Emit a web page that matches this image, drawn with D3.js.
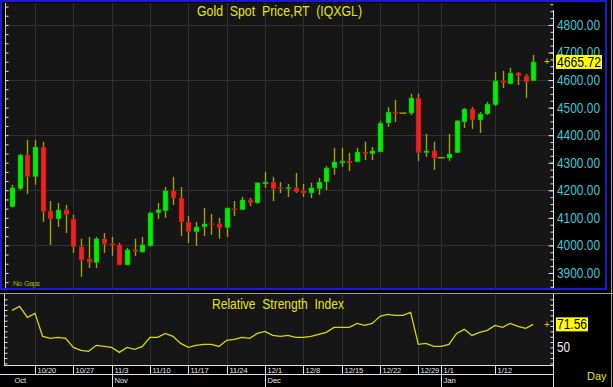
<!DOCTYPE html>
<html lang="en">
  <head>
    <meta charset="UTF-8" />
    <title>Gold Spot Price,RT (IQXGL)</title>
    <script src="https://cdn.jsdelivr.net/npm/d3@7"></script>
    <style>
      body { margin: 0; background: #000; }
      svg { display: block; font-family: "Liberation Sans", Arial, sans-serif; }
    </style>
  </head>
  <body>
    <svg></svg>
    <script>
      // daily candles, 10/15 .. 1/19
      let dates = [
        "10/15","10/16","10/17","10/20","10/21","10/22","10/23","10/24","10/27","10/28","10/29","10/30","10/31",
        "11/3","11/4","11/5","11/6","11/7","11/10","11/11","11/12","11/13","11/14","11/17","11/18","11/19","11/20","11/21",
        "11/24","11/25","11/26","11/27","11/28",
        "12/1","12/2","12/3","12/4","12/5","12/8","12/9","12/10","12/11","12/12","12/15","12/16","12/17","12/18","12/19",
        "12/22","12/23","12/24","12/25","12/26","12/29","12/30","12/31",
        "1/1","1/2","1/5","1/6","1/7","1/8","1/9","1/12","1/13","1/14","1/15","1/16","1/19"
      ];
      let opens = [
        4140,4205,4328,4249,4357,4125,4096,4129,4096,3995,3951,3937,4024,
        4006,4002,3929,3984,3976,3998,4118,4125,4198,4172,4085,4049,4067,4080,4078,
        4064,4134,4129,4165,4154,
        4223,4230,4211,4207,4209,4198,4190,4205,4230,4281,4299,4306,4303,4339,4332,
        4339,4444,4484,4480,4480,4535,4336,4343,
        4318,4317,4336,4448,4495,4455,4477,4510,4597,4586,4626,4615,4597
      ];
      let highs = [
        4220,4332,4383,4383,4376,4161,4154,4147,4111,4024,4031,4031,4045,
        4031,4009,3991,4024,4031,4122,4154,4212,4249,4212,4107,4085,4136,4114,4100,
        4136,4161,4176,4172,4230,
        4267,4249,4230,4223,4263,4223,4227,4245,4288,4354,4354,4336,4354,4376,4357,
        4452,4502,4528,4480,4550,4550,4405,4376,
        4318,4405,4455,4499,4502,4484,4521,4629,4633,4644,4629,4622,4691
      ];
      let lows = [
        4138,4201,4187,4220,4085,4002,4067,4045,3973,3886,3918,3918,3973,
        3962,3929,3929,3962,3973,3995,4096,4100,4147,4034,4009,3998,4034,4038,4024,
        4031,4107,4129,4143,4151,
        4209,4161,4190,4176,4190,4176,4172,4183,4201,4256,4285,4270,4303,4310,4310,
        4339,4430,4448,4480,4473,4307,4321,4274,
        4318,4307,4336,4426,4423,4408,4473,4506,4571,4586,4582,4535,4597
      ];
      let closes = [
        4209,4328,4249,4357,4122,4096,4129,4111,3995,3947,3937,4024,4005,
        4002,3929,3984,3980,4002,4118,4129,4198,4172,4085,4049,4067,4078,4076,4064,
        4136,4130,4165,4154,4227,
        4230,4205,4207,4211,4194,4190,4209,4230,4281,4303,4306,4299,4339,4332,4343,
        4444,4484,4480,4480,4535,4336,4343,4317,
        4318,4332,4452,4495,4455,4477,4513,4597,4590,4626,4615,4593,4665.72
      ];
      let rsi = [
        84.7,88.4,78.1,81.9,60.3,58.4,59.4,58.4,50.0,47.2,46.3,51.9,50.9,
        50.0,45.3,50.0,48.1,50.9,59.4,59.4,63.1,60.3,53.7,50.0,51.9,52.8,52.8,50.9,
        56.6,57.5,59.4,58.4,63.1,
        65.0,61.2,60.3,61.2,59.4,59.4,60.3,62.2,64.1,68.7,68.7,68.7,72.5,70.6,72.5,
        79.1,80.9,80.0,80.0,82.8,52.8,53.7,50.9,
        50.9,52.8,63.1,66.9,61.2,64.1,65.9,70.6,68.7,72.5,69.7,67.8,71.56
      ];
      let priceTicks = [3900,4000,4100,4200,4300,4400,4500,4600,4700,4800];
      let priceGrid = [4000,4200,4400,4600,4800];
      let weekTicks = ["10/20","10/27","11/3","11/10","11/17","11/24","12/1","12/8","12/15","12/22","12/29","1/1","1/12"];
      let monthTicks = ["10/15","11/3","12/1","1/1"];
      let monthLabels = ["Oct","Nov","Dec","Jan"];
      let rsiTicks = [50];

      let width = 613,
        height = 387;
      let plotL = 5,
        plotR = 553;

      let svg = d3.select("svg").attr("width", width).attr("height", height);
      svg.append("rect").attr("width", width).attr("height", height).attr("fill", "#000");

      let x = d3.scalePoint().domain(dates).range([12, 533.3]);
      let y = d3.scaleLinear().domain([3849, 4876]).range([287, 4]);
      let yr = d3.scaleLinear().domain([33.5, 100]).range([365, 294]);

      let candles = dates.map((d, i) => ({
        date: d, o: opens[i], h: highs[i], l: lows[i], c: closes[i]
      }));

      // ---------- price panel ----------
      svg.append("rect")
        .attr("x", plotL).attr("y", 3)
        .attr("width", plotR - plotL).attr("height", 285)
        .attr("fill", "#161616");
      svg.append("rect")
        .attr("x", plotL).attr("y", 294)
        .attr("width", plotR - plotL).attr("height", 71)
        .attr("fill", "#161616");

      let grid = svg.append("g").attr("stroke", "#303030").attr("stroke-width", 1);
      grid.selectAll("line.h")
        .data(priceGrid)
        .enter()
        .append("line")
        .attr("x1", plotL).attr("x2", plotR)
        .attr("y1", (d) => Math.round(y(d)) + 0.5)
        .attr("y2", (d) => Math.round(y(d)) + 0.5);
      grid.selectAll("line.v")
        .data(weekTicks)
        .enter()
        .append("line")
        .attr("x1", (d) => Math.round(x(d)) + 0.5)
        .attr("x2", (d) => Math.round(x(d)) + 0.5)
        .attr("y1", 3).attr("y2", 288);
      grid.selectAll("line.rv")
        .data(weekTicks)
        .enter()
        .append("line")
        .attr("x1", (d) => Math.round(x(d)) + 0.5)
        .attr("x2", (d) => Math.round(x(d)) + 0.5)
        .attr("y1", 295).attr("y2", 365);

      // title
      svg.append("text")
        .attr("x", 197).attr("y", 16)
        .attr("fill", "#e6e600")
        .attr("font-size", 14)
        .attr("textLength", 165)
        .attr("lengthAdjust", "spacingAndGlyphs")
        .style("white-space", "pre")
        .text("Gold  Spot  Price,RT  (IQXGL)");

      svg.append("text")
        .attr("x", 13).attr("y", 286)
        .attr("fill", "#a8a800")
        .attr("font-size", 7.5)
        .attr("textLength", 27)
        .style("white-space", "pre")
        .text("No  Gaps");

      // candles
      let cg = svg.append("g");
      cg.selectAll("line.wick")
        .data(candles.filter((d) => d.h > d.l))
        .enter()
        .append("line")
        .attr("x1", (d) => Math.round(x(d.date)) + 0.5)
        .attr("x2", (d) => Math.round(x(d.date)) + 0.5)
        .attr("y1", (d) => y(d.h))
        .attr("y2", (d) => y(d.l))
        .attr("stroke", "#a3a300")
        .attr("stroke-width", 1.4);
      cg.selectAll("rect.body")
        .data(candles.filter((d) => d.h > d.l))
        .enter()
        .append("rect")
        .attr("x", (d) => Math.round(x(d.date)) - 2)
        .attr("width", 5)
        .attr("y", (d) => y(Math.max(d.o, d.c)))
        .attr("height", (d) => Math.max(1.5, Math.abs(y(d.o) - y(d.c))))
        .attr("fill", (d) => (d.c >= d.o ? "#00ee00" : "#ee2222"))
        .attr("stroke", (d) => (d.c >= d.o ? "#008800" : "#881111"))
        .attr("stroke-width", 0.5);
      // flat holiday sessions
      cg.selectAll("line.flat")
        .data(candles.filter((d) => d.h == d.l))
        .enter()
        .append("line")
        .attr("x1", (d) => x(d.date) - 3.5)
        .attr("x2", (d) => x(d.date) + 3.5)
        .attr("y1", (d) => y(d.c))
        .attr("y2", (d) => y(d.c))
        .attr("stroke", "#a3a300")
        .attr("stroke-width", 1.4);

      // right price axis
      let axisColor = "#e0e0e0";
      let yAxis = svg.append("g")
        .attr("transform", "translate(" + plotR + ",0)")
        .call(d3.axisRight(y).tickValues(priceTicks).tickSize(0).tickPadding(4).tickFormat(d3.format(".2f")));
      yAxis.select(".domain").remove();
      yAxis.selectAll("text")
        .attr("fill", "#38c8d8")
        .attr("font-size", 14)
        .attr("textLength", 43)
        .attr("lengthAdjust", "spacingAndGlyphs");

      let minorR = svg.append("g")
        .attr("transform", "translate(" + (plotR + 0.5) + ",0)")
        .call(d3.axisLeft(y).tickValues(d3.range(3850, 4876, 25)).tickSize(3).tickFormat(""));
      minorR.selectAll("line").attr("stroke", axisColor);
      minorR.select(".domain").remove();
      let majorR = svg.append("g")
        .attr("transform", "translate(" + (plotR + 0.5) + ",0)")
        .call(d3.axisLeft(y).tickValues(priceTicks).tickSize(5).tickFormat(""));
      majorR.selectAll("line").attr("stroke", axisColor);
      majorR.select(".domain").remove();

      let minorL = svg.append("g")
        .attr("transform", "translate(" + (plotL + 0.5) + ",0)")
        .call(d3.axisRight(y).tickValues(d3.range(3866.67, 4876, 200 / 6)).tickSize(3).tickFormat(""));
      minorL.selectAll("line").attr("stroke", axisColor);
      minorL.select(".domain").remove();

      svg.append("line")
        .attr("x1", plotR + 0.5).attr("x2", plotR + 0.5)
        .attr("y1", 10).attr("y2", 290)
        .attr("stroke", axisColor);
      svg.append("line")
        .attr("x1", plotL + 0.5).attr("x2", plotL + 0.5)
        .attr("y1", 3).attr("y2", 288)
        .attr("stroke", "#c8c8c8");

      // last price tag
      let last = candles[candles.length - 1];
      svg.append("text")
        .attr("x", 547).attr("y", y(last.c) + 3.5)
        .attr("fill", "#d0d000")
        .attr("font-size", 10)
        .attr("text-anchor", "middle")
        .text("+");
      svg.append("rect")
        .attr("x", 556).attr("y", y(last.c) - 7)
        .attr("width", 46).attr("height", 14)
        .attr("fill", "#ffff00");
      svg.append("text")
        .attr("x", 557).attr("y", y(last.c) + 5)
        .attr("fill", "#000")
        .attr("font-size", 14)
        .attr("textLength", 44)
        .attr("lengthAdjust", "spacingAndGlyphs")
        .text(d3.format(".2f")(last.c));

      // blue frame of price panel
      svg.append("rect")
        .attr("x", 1).attr("y", 1)
        .attr("width", 605).attr("height", 288)
        .attr("fill", "none")
        .attr("stroke", "#1a1ad0")
        .attr("stroke-width", 2);

      // ---------- RSI panel ----------
      svg.append("line")
        .attr("x1", 0).attr("x2", width)
        .attr("y1", 293.5).attr("y2", 293.5)
        .attr("stroke", "#a0a0a0");
      svg.append("line")
        .attr("x1", plotL - 0.5).attr("x2", plotL - 0.5)
        .attr("y1", 294).attr("y2", 366)
        .attr("stroke", "#c8c8c8");
      svg.append("line")
        .attr("x1", plotR + 0.5).attr("x2", plotR + 0.5)
        .attr("y1", 294).attr("y2", 387)
        .attr("stroke", axisColor);

      svg.append("text")
        .attr("x", 212).attr("y", 309)
        .attr("fill", "#e6e600")
        .attr("font-size", 14)
        .attr("textLength", 132)
        .attr("lengthAdjust", "spacingAndGlyphs")
        .style("white-space", "pre")
        .text("Relative  Strength  Index");

      let rsiLine = d3.line()
        .x((d, i) => x(dates[i]))
        .y((d) => yr(d));
      svg.append("path")
        .datum(rsi)
        .attr("d", rsiLine)
        .attr("fill", "none")
        .attr("stroke", "#d8d800")
        .attr("stroke-width", 1.3);

      let rMinorR = svg.append("g")
        .attr("transform", "translate(" + (plotR + 0.5) + ",0)")
        .call(d3.axisLeft(yr).tickValues(d3.range(35, 100, 5)).tickSize(3).tickFormat(""));
      rMinorR.selectAll("line").attr("stroke", axisColor);
      rMinorR.select(".domain").remove();
      let rMinorL = svg.append("g")
        .attr("transform", "translate(" + (plotL - 0.5) + ",0)")
        .call(d3.axisRight(yr).tickValues(d3.range(35, 100, 5)).tickSize(3).tickFormat(""));
      rMinorL.selectAll("line").attr("stroke", axisColor);
      rMinorL.select(".domain").remove();

      let rAxis = svg.append("g")
        .attr("transform", "translate(" + plotR + ",0)")
        .call(d3.axisRight(yr).tickValues(rsiTicks).tickSize(0).tickPadding(4));
      rAxis.select(".domain").remove();
      rAxis.selectAll("text")
        .attr("fill", "#f0f0f0")
        .attr("font-size", 14)
        .attr("textLength", 13)
        .attr("lengthAdjust", "spacingAndGlyphs");

      let lastRsi = rsi[rsi.length - 1];
      svg.append("text")
        .attr("x", 547).attr("y", yr(lastRsi) + 3.5)
        .attr("fill", "#d0d000")
        .attr("font-size", 10)
        .attr("text-anchor", "middle")
        .text("+");
      svg.append("rect")
        .attr("x", 556).attr("y", yr(lastRsi) - 7)
        .attr("width", 32).attr("height", 14)
        .attr("fill", "#ffff00");
      svg.append("text")
        .attr("x", 557).attr("y", yr(lastRsi) + 5)
        .attr("fill", "#000")
        .attr("font-size", 14)
        .attr("textLength", 30)
        .attr("lengthAdjust", "spacingAndGlyphs")
        .text(lastRsi.toFixed(2));

      // ---------- date axis ----------
      svg.append("line")
        .attr("x1", plotL - 1).attr("x2", plotR)
        .attr("y1", 365.5).attr("y2", 365.5)
        .attr("stroke", "#e0e0e0");
      svg.append("line")
        .attr("x1", 0).attr("x2", plotR)
        .attr("y1", 374.5).attr("y2", 374.5)
        .attr("stroke", "#e0e0e0");

      let wk = svg.append("g").selectAll("g").data(weekTicks).enter().append("g")
        .attr("transform", (d) => "translate(" + (Math.round(x(d)) + 0.5) + ",0)");
      wk.append("line").attr("y1", 365).attr("y2", 374).attr("stroke", "#e0e0e0");
      wk.append("text")
        .attr("x", 2).attr("y", 373)
        .attr("fill", "#e8e8e8")
        .attr("font-size", 7.5)
        .text((d) => d);

      let mo = svg.append("g").selectAll("g").data(monthTicks).enter().append("g")
        .attr("transform", (d) => "translate(" + (Math.round(x(d)) + 0.5) + ",0)");
      mo.append("line")
        .attr("y1", 374).attr("y2", 387)
        .attr("stroke", (d, i) => (i == 0 ? "none" : "#e0e0e0"));
      mo.append("text")
        .attr("x", 2).attr("y", 383)
        .attr("fill", "#e8e8e8")
        .attr("font-size", 7.5)
        .text((d, i) => monthLabels[i]);

      svg.append("text")
        .attr("x", 587).attr("y", 380)
        .attr("fill", "#e6e600")
        .attr("font-size", 11)
        .text("Day");

      // outer right edge
      svg.append("line")
        .attr("x1", 611.5).attr("x2", 611.5)
        .attr("y1", 0).attr("y2", height)
        .attr("stroke", "#a0a0a0");
    </script>
  </body>
</html>
